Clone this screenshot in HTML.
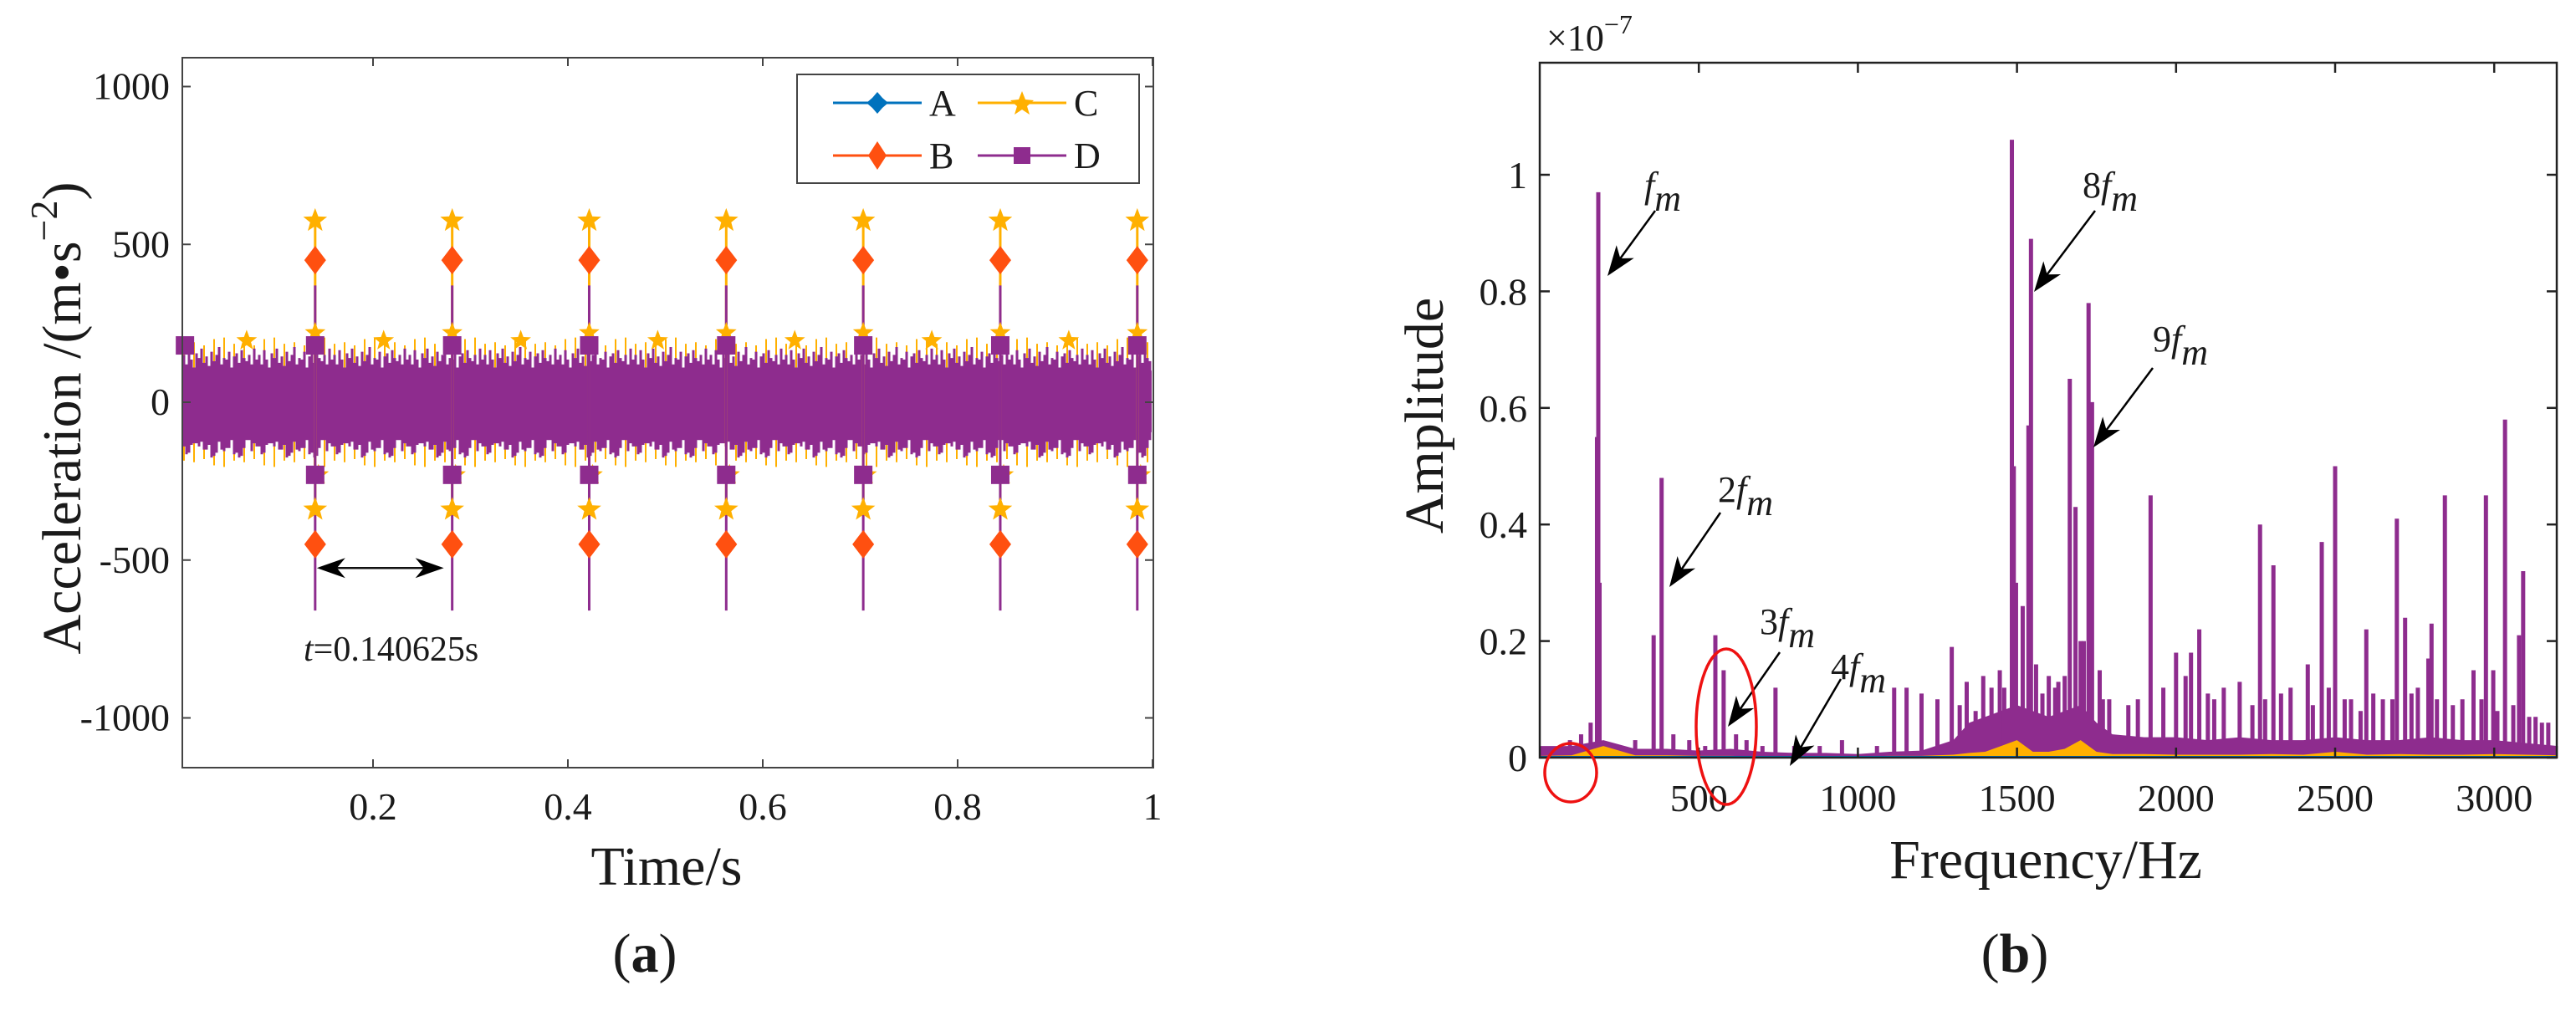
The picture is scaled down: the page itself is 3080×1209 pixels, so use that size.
<!DOCTYPE html>
<html><head><meta charset="utf-8">
<style>
html,body{margin:0;padding:0;background:#fff;}
svg{display:block;}
svg text{font-family:"Liberation Serif","Times New Roman","DejaVu Serif",serif !important;fill:#1a1a1a;}
</style></head>
<body>
<svg id="fig" width="3080" height="1209" viewBox="0 0 3080 1209" xmlns="http://www.w3.org/2000/svg" font-family="Liberation Serif, serif" style="font-family:'Liberation Serif',serif">
<g id="left"></g>
<g id="right"></g>
</svg>
<script>
// ---------- Left chart data ----------
const timeTicks = [0.2, 0.4, 0.6, 0.8, 1];
const timeTickLabels = ["0.2", "0.4", "0.6", "0.8", "1"];
const accTicks = [1000, 500, 0, -500, -1000];
const accTickLabels = ["1000", "500", "0", "-500", "-1000"];
const impactPeriod = 0.140625;
const impactCount = 7;
const impactTopD = 370;
const impactBottomD = -660;
const starTopC = 575;
const diamondTopB = 450;
const starMidC = 220;
const squareTopD = 180;
const squareBotD = -230;
const starBotC = -340;
const diamondBotB = -450;
const halfStarC = 195;
const noiseUpperD = [150,120,165,135,110,155,140,170,125,145,115,160,130,150,175,120,140,135,160,110,145,155,125,165,140,130,150,120,170,135];
const noiseLowerD = [-140,-160,-120,-150,-175,-130,-145,-165,-125,-155,-135,-170,-140,-120,-160,-150,-130,-175,-145,-125,-165,-135,-155,-140,-170,-120,-150,-160,-130,-145];
const noiseExtraC = [185,160,200,175,190,165,205,170,180,195];

// ---------- Right chart data ----------
const freqTicks = [500,1000,1500,2000,2500,3000];
const freqTickLabels = ["500","1000","1500","2000","2500","3000"];
const ampTicks = [0,0.2,0.4,0.6,0.8,1];
const ampTickLabels = ["0","0.2","0.4","0.6","0.8","1"];
const peakFreq = [184,180,188,358,383,552,578,617,741,1114,1153,1295,1342,1394,1420,1446,1484,1490,1497,1518,1536,1544,1560,1600,1630,1666,1684,1700,1725,1736,1760,1790,1920,2000,2030,2047,2073,2150,2200,2264,2306,2360,2414,2458,2500,2550,2598,2650,2694,2720,2760,2793,2803,2845,2900,2935,2974,2997,3034,3078,3091,3130,3170,95,130,160,300,420,470,520,650,700,800,880,950,1060,1200,1250,1320,1370,1460,1580,1620,1650,1710,1770,1850,1880,1960,2100,2120,2240,2280,2330,2430,2480,2530,2580,2620,2680,2740,2820,2870,2960,3010,3060,3110,3150];
const peakAmp  = [0.97,0.55,0.3,0.21,0.48,0.21,0.15,0.04,0.12,0.12,0.12,0.19,0.13,0.14,0.12,0.15,1.06,0.5,0.3,0.26,0.57,0.89,0.16,0.14,0.13,0.65,0.43,0.2,0.78,0.61,0.15,0.1,0.45,0.18,0.14,0.18,0.22,0.12,0.13,0.4,0.33,0.12,0.16,0.37,0.5,0.1,0.22,0.1,0.41,0.24,0.12,0.17,0.23,0.45,0.1,0.15,0.45,0.15,0.58,0.21,0.32,0.07,0.06,0.03,0.04,0.06,0.03,0.04,0.03,0.02,0.03,0.02,0.02,0.02,0.03,0.02,0.11,0.1,0.09,0.08,0.12,0.11,0.12,0.14,0.2,0.1,0.09,0.1,0.12,0.11,0.1,0.09,0.1,0.11,0.09,0.12,0.1,0.08,0.11,0.1,0.11,0.1,0.09,0.1,0.08,0.09,0.07,0.06];
const baseFreq = [0,100,200,300,400,500,600,700,800,900,1000,1100,1200,1300,1350,1400,1450,1500,1550,1600,1650,1700,1750,1800,1900,2000,2100,2200,2300,2400,2500,2600,2700,2800,2900,3000,3100,3200];
const baseAmp  = [0.02,0.02,0.03,0.015,0.015,0.012,0.015,0.01,0.008,0.008,0.006,0.01,0.012,0.03,0.06,0.07,0.08,0.09,0.08,0.07,0.08,0.09,0.06,0.04,0.035,0.035,0.03,0.035,0.03,0.03,0.035,0.03,0.03,0.035,0.03,0.03,0.025,0.02];
const orangeAmp= [0.003,0.004,0.02,0.004,0.004,0.003,0.003,0.002,0.002,0.002,0.002,0.003,0.003,0.005,0.008,0.01,0.02,0.03,0.01,0.01,0.015,0.03,0.01,0.006,0.006,0.005,0.005,0.005,0.006,0.005,0.01,0.005,0.006,0.005,0.005,0.006,0.005,0.004];

const NS="http://www.w3.org/2000/svg";
function mk(parent, tag, attrs){const e=document.createElementNS(NS,tag);for(const k in attrs)e.setAttribute(k,attrs[k]);if(tag==='text')e.setAttribute('font-family','Liberation Serif, serif');parent.appendChild(e);return e;}

// ----- Left -----
const L=document.getElementById('left');
const lx0=218,lx1=1379,ly0=69,ly1=918;
const tx=v=>213+v*1165;
const ay=v=>481-v*0.3775;
(function(){
 const bg=mk(L,'rect',{x:lx0,y:ly0,width:lx1-lx0,height:ly1-ly0,fill:'#fff',stroke:'none'});
 
 
 const band=mk(L,'g',{});
 
 
 let i=0;
 for(let x=lx0+2;x<lx1-1;x+=3){
   const c=noiseExtraC[i%noiseExtraC.length];
   if(i%4===0) mk(band,'line',{x1:x,x2:x,y1:ay(c),y2:ay(-c),stroke:'#FFB000','stroke-width':2});
   mk(band,'line',{x1:x,x2:x,y1:ay(noiseUpperD[i%noiseUpperD.length]),y2:ay(noiseLowerD[(i*7)%noiseLowerD.length]),stroke:'#8E2C8E','stroke-width':3});
   i++;
 }
 mk(band,'rect',{x:lx0+2,y:ay(100),width:lx1-lx0-4,height:ay(-95)-ay(100),fill:'#8E2C8E'});
 const star=(g,cx,cy,r,fill)=>{let p='';for(let k=0;k<10;k++){const rr=k%2?r*0.42:r;const a=-Math.PI/2+k*Math.PI/5;p+=(cx+rr*Math.cos(a)).toFixed(1)+','+(cy+rr*Math.sin(a)).toFixed(1)+' ';}return mk(g,'polygon',{points:p,fill:fill});};
 const diamond=(g,cx,cy,fill)=>mk(g,'polygon',{points:`${cx},${cy-17} ${cx+13},${cy} ${cx},${cy+17} ${cx-13},${cy}`,fill:fill});
 const square=(g,cx,cy,fill)=>mk(g,'rect',{x:cx-11,y:cy-11,width:22,height:22,fill:fill});
 for(let k=1;k<=impactCount;k++){
   const t=impactPeriod*k, x=tx(t);
   const g=mk(L,'g',{});
   
   
   mk(g,'line',{x1:x,x2:x,y1:ay(starTopC),y2:ay(starBotC),stroke:'#FFB000','stroke-width':3});
   mk(g,'line',{x1:x,x2:x,y1:ay(impactTopD),y2:ay(impactBottomD),stroke:'#8E2C8E','stroke-width':3});
   star(g,x,ay(starTopC),15,'#FFB000');
   diamond(g,x,ay(diamondTopB),'#FF5010');
   star(g,x,ay(starMidC),13,'#FFB000');
   square(g,x,ay(squareTopD),'#8E2C8E');
   star(g,x+4,ay(squareBotD),13,'#FFB000');
   square(g,x,ay(squareBotD),'#8E2C8E');
   star(g,x,ay(starBotC),15,'#FFB000');
   diamond(g,x,ay(diamondBotB),'#FF5010');
   const hx=tx(t-impactPeriod/2);
   const hs=star(L,hx,ay(halfStarC),13,'#FFB000');
   
   
 }
 square(L,tx(0.007),ay(squareTopD),'#8E2C8E');
 const fr=mk(L,'rect',{x:lx0,y:ly0,width:lx1-lx0,height:ly1-ly0,fill:'none',stroke:'#444','stroke-width':2});
 
 
 timeTicks.forEach((v,j)=>{
   const x=tx(v);
   mk(L,'line',{x1:x,x2:x,y1:ly1,y2:ly1-10,stroke:'#444','stroke-width':2});
   mk(L,'line',{x1:x,x2:x,y1:ly0,y2:ly0+10,stroke:'#444','stroke-width':2});
   const te=mk(L,'text',{x:x,y:980,'font-size':46,'text-anchor':'middle'});te.textContent=timeTickLabels[j];
   
   
 });
 accTicks.forEach((v,j)=>{
   const y=ay(v);
   mk(L,'line',{x1:lx0,x2:lx0+10,y1:y,y2:y,stroke:'#444','stroke-width':2});
   mk(L,'line',{x1:lx1,x2:lx1-10,y1:y,y2:y,stroke:'#444','stroke-width':2});
   const te=mk(L,'text',{x:203,y:y+15,'font-size':46,'text-anchor':'end'});te.textContent=accTickLabels[j];
   
   
 });
 const ar=mk(L,'g',{});
 
 
 const x1=tx(impactPeriod)+2,x2=tx(impactPeriod*2)-10,yy=ay(-525);
 mk(ar,'line',{x1:x1+20,x2:x2-20,y1:yy,y2:yy,stroke:'#111','stroke-width':2.5});
 mk(ar,'polygon',{points:`${x1},${yy} ${x1+34},${yy-12} ${x1+24},${yy} ${x1+34},${yy+12}`,fill:'#000'});
 mk(ar,'polygon',{points:`${x2},${yy} ${x2-34},${yy-12} ${x2-24},${yy} ${x2-34},${yy+12}`,fill:'#000'});
})();
</script>
<script>
(function(){
 const L=document.getElementById('left');
 function t(parent,attrs,html,name){const e=document.createElementNS("http://www.w3.org/2000/svg",'text');for(const k in attrs)e.setAttribute(k,attrs[k]);e.setAttribute('font-family','Liberation Serif, serif');e.innerHTML=html;parent.appendChild(e);return e;}
 t(L,{x:363,y:790,'font-size':42},'<tspan font-style="italic">t</tspan>=0.140625s','period-label');
 t(L,{x:797,y:1058,'font-size':66,'text-anchor':'middle'},'Time/s','x-axis-title');
 t(L,{x:0,y:0,'font-size':66,'text-anchor':'middle',transform:'translate(96,500) rotate(-90)'},'Acceleration /(m•s<tspan dy="-28" font-size="46">−2</tspan><tspan dy="28">)</tspan>','y-axis-title');
 t(L,{x:771,y:1162,'font-size':66,'text-anchor':'middle'},'(<tspan font-weight="bold">a</tspan>)','panel-label-a');
 const g=document.createElementNS("http://www.w3.org/2000/svg",'g');L.appendChild(g);
 
 
 g.innerHTML=`<rect x="953" y="89" width="409" height="130" fill="#fff" stroke="#444" stroke-width="2"/>
 <line x1="996" x2="1102" y1="123" y2="123" stroke="#0072BD" stroke-width="3"/>
 <polygon points="1049,110 1055,117 1062,123 1055,129 1049,136 1043,129 1036,123 1043,117" fill="#0072BD"/>
 <line x1="1169" x2="1275" y1="123" y2="123" stroke="#FFB000" stroke-width="3"/>
 <polygon points="1222,109 1226,119 1236,120 1228,127 1231,137 1222,131 1213,137 1216,127 1208,120 1218,119" fill="#FFB000"/>
 <line x1="996" x2="1102" y1="186" y2="186" stroke="#FF5010" stroke-width="3"/>
 <polygon points="1049,169 1060,186 1049,203 1038,186" fill="#FF5010"/>
 <line x1="1169" x2="1275" y1="186" y2="186" stroke="#8E2C8E" stroke-width="3"/>
 <rect x="1212" y="176" width="20" height="20" fill="#8E2C8E"/>
 <text x="1111" y="138" font-size="44" font-family="Liberation Serif, serif">A</text><text x="1284" y="138" font-size="44" font-family="Liberation Serif, serif">C</text>
 <text x="1111" y="201" font-size="44" font-family="Liberation Serif, serif">B</text><text x="1284" y="201" font-size="44" font-family="Liberation Serif, serif">D</text>`;
})();
</script>
<script>
(function(){
 const NS="http://www.w3.org/2000/svg";
 function mk(parent, tag, attrs){const e=document.createElementNS(NS,tag);for(const k in attrs)e.setAttribute(k,attrs[k]);if(tag==='text')e.setAttribute('font-family','Liberation Serif, serif');parent.appendChild(e);return e;}
 const R=document.getElementById('right');
 const rx0=1841,rx1=3057,ry0=75,ry1=906;
 const fx=v=>1841+v*0.3804;
 const fy=v=>906-v*697;
 let p=`${fx(baseFreq[0])},${ry1} `;
 baseFreq.forEach((f,i)=>{p+=`${fx(f).toFixed(1)},${fy(baseAmp[i]).toFixed(1)} `;});
 p+=`${fx(baseFreq[baseFreq.length-1])},${ry1}`;
 const base=mk(R,'polygon',{points:p,fill:'#8E2C8E'});
 
 
 peakFreq.forEach((f,i)=>{
   const x=Math.min(fx(f),rx1-3);
   const l=mk(R,'line',{x1:x,x2:x,y1:ry1,y2:fy(peakAmp[i]),stroke:'#8E2C8E','stroke-width':5});
   
   
 });
 let po=`${fx(baseFreq[0])},${ry1} `;
 baseFreq.forEach((f,i)=>{po+=`${fx(f).toFixed(1)},${fy(orangeAmp[i]).toFixed(1)} `;});
 po+=`${fx(baseFreq[baseFreq.length-1])},${ry1}`;
 const or=mk(R,'polygon',{points:po,fill:'#FFB000'});
 
 
 const bl=mk(R,'line',{x1:rx0,x2:rx1,y1:ry1-1,y2:ry1-1,stroke:'#0072BD','stroke-width':2});
 
 
 const fr=mk(R,'rect',{x:rx0,y:ry0,width:rx1-rx0,height:ry1-ry0,fill:'none',stroke:'#222','stroke-width':2.5});
 
 
 freqTicks.forEach((v,j)=>{
   const x=fx(v);
   mk(R,'line',{x1:x,x2:x,y1:ry1,y2:ry1-12,stroke:'#222','stroke-width':2.5});
   mk(R,'line',{x1:x,x2:x,y1:ry0,y2:ry0+12,stroke:'#222','stroke-width':2.5});
   const te=mk(R,'text',{x:x,y:970,'font-size':46,'text-anchor':'middle'});te.textContent=freqTickLabels[j];
   
   
 });
 ampTicks.forEach((v,j)=>{
   const y=fy(v);
   mk(R,'line',{x1:rx0,x2:rx0+12,y1:y,y2:y,stroke:'#222','stroke-width':2.5});
   mk(R,'line',{x1:rx1,x2:rx1-12,y1:y,y2:y,stroke:'#222','stroke-width':2.5});
   const te=mk(R,'text',{x:1826,y:y+16,'font-size':46,'text-anchor':'end'});te.textContent=ampTickLabels[j];
   
   
 });
 function t(attrs,html,name){const e=mk(R,'text',attrs);e.innerHTML=html;return e;}
 t({x:1849,y:60,'font-size':44},'×10<tspan dy="-20" font-size="32">−7</tspan>','y-scale-exponent');
 t({x:0,y:0,'font-size':66,'text-anchor':'middle',transform:'translate(1725,497) rotate(-90)'},'Amplitude','y-axis-title');
 t({x:2446,y:1050,'font-size':66,'text-anchor':'middle'},'Frequency/Hz','x-axis-title');
 t({x:2409,y:1162,'font-size':66,'text-anchor':'middle'},'(<tspan font-weight="bold">b</tspan>)','panel-label-b');
 const ann=[["","1966","236","1979,252","1922,330","fm"],["8","2490","236","2505,252","2432,349","8fm"],["9","2574","420","2574,440","2503,535","9fm"],["2","2054","600","2057,613","1996,702","2fm"],["3","2104","758","2128,780","2066,869","3fm"],["4","2189","812","2201,812","2140,916","4fm"]];
 ann.forEach(a=>{
   t({x:a[1],y:a[2],'font-size':44},a[0]+'<tspan font-style="italic">f</tspan><tspan font-style="italic" dy="16">m</tspan>','harmonic-label-'+a[5]);
   const [sx,sy]=a[3].split(',').map(Number),[ex,ey]=a[4].split(',').map(Number);
   const g=mk(R,'g',{});
   
   
   const dx=ex-sx,dy=ey-sy,Ln=Math.hypot(dx,dy),ux=dx/Ln,uy=dy/Ln;
   mk(g,'line',{x1:sx,y1:sy,x2:ex-ux*20,y2:ey-uy*20,stroke:'#000','stroke-width':2.5});
   const bx=ex-ux*36,by=ey-uy*36;
   mk(g,'polygon',{points:`${ex},${ey} ${bx-uy*13},${by+ux*13} ${ex-ux*26},${ey-uy*26} ${bx+uy*13},${by-ux*13}`,fill:'#000'});
 });
 const e1=mk(R,'ellipse',{cx:1878,cy:924,rx:31,ry:35,fill:'none',stroke:'#EE1111','stroke-width':3.5});
 
 
 const e2=mk(R,'ellipse',{cx:2064,cy:869,rx:36,ry:93,fill:'none',stroke:'#EE1111','stroke-width':3.5});
 
 
})();
</script>
</body></html>
